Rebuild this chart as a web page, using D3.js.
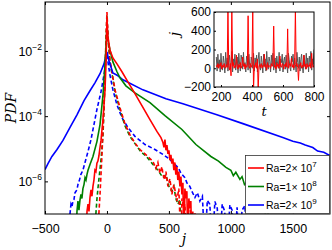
<!DOCTYPE html>
<html>
<head>
<meta charset="utf-8">
<script src="https://cdn.jsdelivr.net/npm/d3@7"></script>
<style>
  body { margin: 0; background: #fff; }
  svg { display: block; }
  .tick text, .lbl { font-family: "Liberation Sans", Arial, sans-serif; fill: #000; }
  .ital { font-family: "DejaVu Serif", "Liberation Serif", serif; font-style: italic; }
</style>
</head>
<body>
<svg width="332" height="250"></svg>
<script>
// ---- data ----
var jTicks = [-500, 0, 500, 1000, 1500];
var pdfTicks = [1e-2, 1e-4, 1e-6];
var tTicks = [200, 400, 600, 800];
var jInsetTicks = [-200, 0, 200, 400, 600];
var legendLabels = [["Ra=2\u00d7 10", "7"], ["Ra=1\u00d7 10", "8"], ["Ra=2\u00d7 10", "9"]];

// [j, PDF]
var redSolid = [[-169,1e-8],[-161,1.2e-7],[-153,2e-7],[-145,1.2e-7],[-137,3.2e-7],[-129,5.5e-7],[-121,3.5e-7],[-113,7e-7],[-105,1.1e-6],[-97,2.2e-6],[-89,2.0e-6],[-81,3.6e-6],[-73,4.2e-6],[-65,6e-6],[-56,1.1e-5],[-48,1.8e-5],[-40,3.9e-5],[-32,8e-5],[-24,2.2e-4],[-16,6e-4],[-8,4e-3],[0,0.089],[8,0.025],[24,0.0107],[48,6.1e-3],[81,4.0e-3],[121,2.3e-3],[169,1.13e-3],[226,4.9e-4],[282,2.1e-4],[347,7.8e-5],[403,3.4e-5],[436,2.2e-5],[452,1.55e-5],[460,1.1e-5],[468,1.9e-5],[476,9e-6],[484,1.3e-5],[492,7e-6],[500,9e-6],[508,4.5e-6],[516,6.5e-6],[524,3.5e-6],[532,5e-6],[540,2.2e-6],[548,3.8e-6],[556,1.6e-6],[564,2.8e-6],[572,1.1e-6],[580,2e-6],[589,7e-7],[597,1.4e-6],[605,4e-7],[613,9e-7],[621,1e-8],[629,6e-7],[637,3e-7],[645,5e-7],[653,1e-8],[661,3e-7],[669,1.5e-7],[677,2.5e-7],[685,1e-8],[693,1.2e-7],[701,1e-8]];
var redDashed = [[-73,1e-8],[-65,1.05e-7],[-56,4e-7],[-48,1.64e-6],[-40,6.7e-6],[-32,3.9e-5],[-24,2.2e-4],[-16,1.85e-3],[-8,0.022],[0,0.155],[8,0.031],[24,5.3e-3],[65,6.4e-4],[105,1.8e-4],[145,5.9e-5],[185,2.7e-5],[226,1.5e-5],[266,9.5e-6],[307,7e-6],[347,5e-6],[371,4.1e-6],[395,2.5e-6],[411,3.8e-6],[427,1.8e-6],[444,2.8e-6],[452,1.64e-6],[468,1.1e-6],[476,2e-6],[492,7e-7],[508,1.2e-6],[524,4e-7],[540,8e-7],[548,5.7e-7],[564,2.5e-7],[580,6e-7],[597,1e-8],[605,3e-7],[621,1.5e-7],[629,2e-7],[645,1e-8],[661,2.2e-7],[677,1.1e-7],[693,1e-8],[710,1.1e-7],[726,1e-8]];
var greenSolid = [[-250,1e-8],[-242,1.2e-7],[-234,2.5e-7],[-226,1.3e-7],[-218,2.6e-7],[-210,4e-7],[-202,3e-7],[-194,6e-7],[-185,8.1e-7],[-177,1.3e-6],[-169,1.1e-6],[-161,1.64e-6],[-153,2.2e-6],[-137,3.3e-6],[-113,5.8e-6],[-81,1.66e-5],[-56,5.5e-5],[-32,4.5e-4],[-16,3.7e-3],[-8,0.0132],[0,0.062],[8,0.022],[24,0.0107],[48,4.6e-3],[81,2.3e-3],[105,1.5e-3],[153,8.5e-4],[226,5.2e-4],[347,2.6e-4],[468,1.04e-4],[605,3.9e-5],[718,1.35e-5],[839,5.8e-6],[900,4.2e-6],[960,2.7e-6],[1000,2.2e-6],[1020,1.5e-6],[1040,1.9e-6],[1073,1.15e-6],[1090,1.4e-6],[1110,8e-7],[1130,9.5e-7],[1153,6.6e-7],[1170,4.5e-7],[1185,6e-7],[1200,3.5e-7],[1215,4.5e-7],[1234,3.2e-7],[1250,1.8e-7],[1262,2.6e-7],[1274,1.85e-7],[1290,1e-8],[1300,1.3e-7],[1315,1e-8]];
var greenDashed = [[-97,1e-8],[-89,1.05e-7],[-81,2.8e-7],[-73,6e-7],[-65,1.15e-6],[-48,4.7e-6],[-32,2.7e-5],[-24,1.6e-4],[-16,1.3e-3],[-8,0.015],[0,0.126],[8,0.025],[24,4.6e-3],[65,5.6e-4],[105,1.6e-4],[145,5.1e-5],[185,2.4e-5],[266,8.8e-6],[323,5.5e-6],[371,3.3e-6],[411,2.2e-6],[452,1.3e-6],[476,1.6e-6],[500,7e-7],[524,5e-7],[540,7e-7],[556,3e-7],[573,2e-7],[589,2.8e-7],[605,1e-8],[621,1.5e-7],[637,1e-8]];
var blueSolid = [[-500,2.3e-6],[-476,3.5e-6],[-444,5.8e-6],[-403,9.5e-6],[-355,1.8e-5],[-298,4.5e-5],[-242,1.1e-4],[-185,3.0e-4],[-137,6.0e-4],[-97,1.05e-3],[-56,2.0e-3],[-24,4.0e-3],[-8,7.0e-3],[0,9.3e-3],[16,5e-3],[48,2.1e-3],[89,1.73e-3],[129,1.3e-3],[290,6.4e-4],[476,3.4e-4],[613,2.4e-4],[887,1.1e-4],[1097,5.9e-5],[1419,2.2e-5],[1500,1.7e-5],[1560,1.5e-5],[1600,1.3e-5],[1661,1.09e-5],[1700,8.5e-6],[1750,7.8e-6],[1798,6.2e-6]];
var blueDashed = [[-306,1e-8],[-298,1.05e-7],[-290,2e-7],[-282,1.7e-7],[-274,2.6e-7],[-266,2.8e-7],[-258,4.5e-7],[-250,5e-7],[-242,5.5e-7],[-234,8.1e-7],[-222,1.1e-6],[-210,1.64e-6],[-194,2.2e-6],[-177,3.8e-6],[-153,8.2e-6],[-129,1.9e-5],[-105,5.5e-5],[-81,1.6e-4],[-48,5.6e-4],[-24,1.85e-3],[-8,4.6e-3],[0,7.6e-3],[8,4.6e-3],[24,1.85e-3],[48,6.4e-4],[81,2.2e-4],[121,9e-5],[169,4.5e-5],[226,2.4e-5],[307,1.35e-5],[387,9.5e-6],[452,6.7e-6],[508,4.7e-6],[540,3.5e-6],[573,2.7e-6],[597,1.8e-6],[629,1.3e-6],[645,9e-7],[669,7e-7],[685,5e-7],[710,3.2e-7],[730,4.5e-7],[750,2.5e-7],[770,3.5e-7],[790,1e-8],[810,2.6e-7],[830,2e-7],[850,1e-8],[871,2.4e-7],[890,1.5e-7],[910,1e-8],[930,2e-7],[950,1.2e-7],[970,1e-8],[992,1.9e-7],[1010,1.3e-7],[1030,1e-8],[1050,1.6e-7],[1070,1e-8],[1090,1.3e-7],[1113,1.8e-7],[1130,1e-8]];

// inset time series, sampled every 5 time units from t = 170
var insetT0 = 170, insetDt = 5;
var grayJ = [120,-30,150,10,90,-40,160,30,-20,130,
  60,-50,170,20,110,-30,80,140,-10,60,
  180,-40,100,30,150,-20,70,120,-50,160,
  40,-30,140,90,-10,170,20,60,-40,130,
  100,-20,150,30,-50,120,80,0,160,-30,
  110,50,140,-40,90,170,10,-20,130,60,
  -50,150,20,100,-30,180,40,-10,120,70,
  -40,140,30,160,-20,90,110,-50,130,50,
  0,170,-30,100,60,150,-40,80,120,-10,
  140,30,-50,160,90,10,-30,130,70,150,
  -20,110,40,-40,170,60,0,120,-30,90,
  150,20,-50,140,80,-10,160,30,110,-40,
  130,60,180,-20,100,40,200];
var redJ = [30,10,50,0,40,20,60,-10,30,10,
  50,20,0,40,10,640,30,-20,50,-80,
  640,20,60,0,30,10,140,20,-10,40,
  10,60,0,30,120,20,50,-10,40,10,
  30,560,20,0,50,10,40,640,-240,30,
  10,60,0,100,-240,20,40,10,50,0,
  30,20,150,10,40,-20,60,10,30,20,
  0,50,20,40,450,10,30,-10,60,20,
  40,0,130,20,10,50,30,-10,40,20,
  60,10,420,0,30,50,20,110,10,40,
  0,30,640,20,50,10,-130,40,20,60,
  0,30,10,140,20,40,-10,50,10,30,
  20,60,0,160,30,10,40];

var svg = d3.select("svg");

// ---- main axes ----
var x = d3.scaleLinear().domain([-500, 1800]).range([45, 330]);
var y = d3.scaleLog().domain([1e-7, Math.pow(10, -0.5)]).range([214, 2]);

svg.append("clipPath").attr("id", "clipMain")
  .append("rect").attr("x", 45).attr("y", 2).attr("width", 285).attr("height", 212);

var line = d3.line().x(d => x(d[0])).y(d => y(d[1]));
var plot = svg.append("g").attr("clip-path", "url(#clipMain)");

var series = [
  [blueDashed, "#0000ff", true], [greenDashed, "#008000", true], [redDashed, "#ff0000", true],
  [blueSolid, "#0000ff", false], [greenSolid, "#008000", false], [redSolid, "#ff0000", false]
];
series.forEach(s => {
  plot.append("path").datum(s[0])
    .attr("d", line)
    .attr("fill", "none")
    .attr("stroke", s[1])
    .attr("stroke-width", 1.6)
    .attr("stroke-dasharray", s[2] ? "4,2.5" : null);
});

// box and ticks
svg.append("rect").attr("x", 45).attr("y", 2).attr("width", 285).attr("height", 212)
  .attr("fill", "none").attr("stroke", "#000").attr("stroke-width", 1);

var gx = svg.append("g").attr("transform", "translate(0,214)")
  .call(d3.axisBottom(x).tickValues(jTicks).tickSize(-3).tickPadding(8).tickFormat(d => d < 0 ? "\u2212" + (-d) : d));
gx.select(".domain").remove();
gx.selectAll("text").attr("font-size", 12.5).attr("dy", "0.85em");
var gxt = svg.append("g").attr("transform", "translate(0,2)")
  .call(d3.axisTop(x).tickValues(jTicks).tickSize(-3).tickFormat(""));
gxt.select(".domain").remove();

var gy = svg.append("g").attr("transform", "translate(45,0)")
  .call(d3.axisLeft(y).tickValues(pdfTicks).tickSize(-3).tickFormat(""));
gy.select(".domain").remove();
var gyr = svg.append("g").attr("transform", "translate(330,0)")
  .call(d3.axisRight(y).tickValues(pdfTicks).tickSize(-3).tickFormat(""));
gyr.select(".domain").remove();

pdfTicks.forEach(v => {
  var t = svg.append("text").attr("class", "lbl").attr("x", 42).attr("y", y(v) + 5)
    .attr("text-anchor", "end").attr("font-size", 12.5);
  t.append("tspan").text("10");
  t.append("tspan").attr("dy", -6).attr("font-size", 8.5).text("\u2212" + Math.round(-Math.log10(v)));
});

svg.append("text").attr("class", "ital").attr("font-size", 14)
  .attr("transform", "translate(16,108) rotate(-90)").attr("text-anchor", "middle").text("PDF");
svg.append("text").attr("class", "ital").attr("font-size", 14)
  .attr("x", 184).attr("y", 244).attr("text-anchor", "middle").text("j");

// ---- legend ----
var leg = svg.append("g");
leg.append("rect").attr("x", 245.5).attr("y", 155.5).attr("width", 84).attr("height", 58)
  .attr("fill", "#fff").attr("stroke", "#333").attr("stroke-width", 0.8);
["#ff0000", "#008000", "#0000ff"].forEach((c, i) => {
  var yy = 168 + i * 18.5;
  leg.append("line").attr("x1", 248).attr("x2", 264).attr("y1", yy).attr("y2", yy)
    .attr("stroke", c).attr("stroke-width", 1.6);
  var t = leg.append("text").attr("class", "lbl").attr("x", 266).attr("y", yy + 4).attr("font-size", 10.5);
  t.append("tspan").text(legendLabels[i][0]);
  t.append("tspan").attr("dy", -5).attr("font-size", 8).text(legendLabels[i][1]);
});

// ---- inset ----
var xi = d3.scaleLinear().domain([155, 800]).range([214, 314]);
var yi = d3.scaleLinear().domain([-200, 600]).range([87, 12]);

svg.append("rect").attr("x", 214).attr("y", 12).attr("width", 100).attr("height", 75).attr("fill", "#fff");
svg.append("clipPath").attr("id", "clipInset")
  .append("rect").attr("x", 214).attr("y", 12).attr("width", 100).attr("height", 75);

var iline = d3.line().x((d, i) => xi(insetT0 + i * insetDt)).y(d => yi(d));
var ig = svg.append("g").attr("clip-path", "url(#clipInset)");
ig.append("path").datum(grayJ).attr("d", iline).attr("fill", "none")
  .attr("stroke", "#555").attr("stroke-width", 1);
ig.append("path").datum(redJ).attr("d", iline).attr("fill", "none")
  .attr("stroke", "#ff0000").attr("stroke-width", 1);

svg.append("rect").attr("x", 214).attr("y", 12).attr("width", 100).attr("height", 75)
  .attr("fill", "none").attr("stroke", "#000").attr("stroke-width", 1);

var gxi = svg.append("g").attr("transform", "translate(0,87)")
  .call(d3.axisBottom(xi).tickValues(tTicks).tickSize(-2).tickPadding(5));
gxi.select(".domain").remove();
gxi.selectAll("text").attr("font-size", 12);
var gyi = svg.append("g").attr("transform", "translate(214,0)")
  .call(d3.axisLeft(yi).tickValues(jInsetTicks).tickSize(-2).tickPadding(3).tickFormat(d => d < 0 ? "\u2212" + (-d) : d));
gyi.select(".domain").remove();
gyi.selectAll("text").attr("font-size", 12);

svg.append("text").attr("class", "ital").attr("font-size", 13)
  .attr("transform", "translate(179,34) rotate(-90)").attr("text-anchor", "middle").text("j");
svg.append("text").attr("class", "ital").attr("font-size", 13)
  .attr("x", 264).attr("y", 116).attr("text-anchor", "middle").text("t");
</script>
</body>
</html>
